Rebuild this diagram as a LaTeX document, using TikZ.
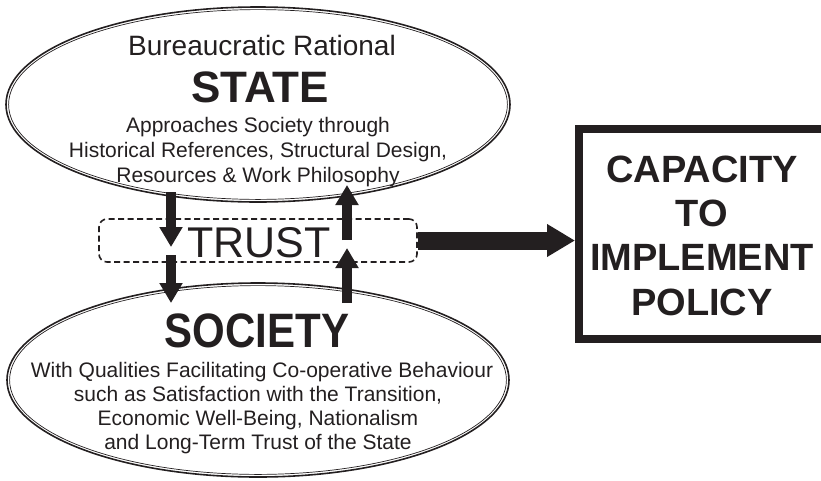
\documentclass[tikz,border=0pt]{standalone}
\usepackage{fontspec}
\setmainfont{Liberation Sans}
\usetikzlibrary{arrows.meta}
\definecolor{ink}{HTML}{231F20}

\tikzset{
  ring/.style={ink, line width=1.6},
  innerring/.style={ink, line width=0.7},
  line/.style={anchor=base, inner sep=0, text=ink, font=\fontsize{21}{24}\selectfont},
  flow/.style={ink, line width=10, -{Triangle[width=22pt,length=20pt]}},
}

\begin{document}
\begin{tikzpicture}[x=1pt, y=-1pt]
\useasboundingbox (0,0) rectangle (821,480);
\clip (0,0) rectangle (821,480);
\coordinate (S) at (258,104.5);
\coordinate (Q) at (258,380);
% the two ellipses, drawn double
\draw[ring] (S) ellipse [x radius=252, y radius=97.5];
\draw[innerring] (S) ellipse [x radius=249.4, y radius=94.9];
\draw[ring] (Q) ellipse [x radius=251, y radius=97];
\draw[innerring] (Q) ellipse [x radius=248.4, y radius=94.4];

\node[line, font=\fontsize{28}{30}\selectfont] (state1) at (262,55) {Bureaucratic Rational};
\node[line, font=\fontsize{44}{48}\bfseries] (state) at (260,102) {STATE};
\node[line] (state2) at (258,132) {Approaches Society through};
\node[line] (state3) at (258,157) {Historical References, Structural Design,};
\node[line] (state4) at (258,182) {Resources \& Work Philosophy};

\node[line, font=\fontsize{42}{48}\bfseries, yscale=1.15] (society) at (257,347) {SOCIETY};
\node[line] (soc1) at (262,377) {With Qualities Facilitating Co-operative Behaviour};
\node[line] (soc2) at (258,401) {such as Satisfaction with the Transition,};
\node[line] (soc3) at (258,425) {Economic Well-Being, Nationalism};
\node[line] (soc4) at (258,449) {and Long-Term Trust of the State};

% trust box
\node[draw=ink, line width=1.6, dash pattern=on 6pt off 3.5pt, rounded corners=8,
  minimum width=318, minimum height=43, inner sep=0] (trust) at (258,240.5) {};
\node[line, font=\fontsize{43}{48}\selectfont] (trusttxt) at (259,257) {TRUST};

% capacity box
\draw[ink, line width=8] (579,129) rectangle (835,339);
\coordinate (cap) at (575,240.5);
\node[line, font=\fontsize{38}{44}\bfseries] (c1) at (702,182) {CAPACITY};
\node[line, font=\fontsize{38}{44}\bfseries] (c2) at (702,226) {TO};
\node[line, font=\fontsize{38}{44}\bfseries] (c3) at (702,270) {IMPLEMENT};
\node[line, font=\fontsize{38}{44}\bfseries] (c4) at (702,315) {POLICY};

% arrows
\coordinate (d1) at (171,192);
\coordinate (d2) at (171,247);
\coordinate (d3) at (171,255);
\coordinate (d4) at (171,303);
\coordinate (u1) at (347,240);
\coordinate (u2) at (347,185);
\coordinate (u3) at (347,303);
\coordinate (u4) at (347,248);
\draw[flow] (d1) -- (d2);
\draw[flow] (d3) -- (d4);
\draw[flow] (u1) -- (u2);
\draw[flow] (u3) -- (u4);
\draw[ink, line width=18, -{Triangle[width=31pt,length=28pt]}] (trust.east) -- (cap);
\end{tikzpicture}
\end{document}
